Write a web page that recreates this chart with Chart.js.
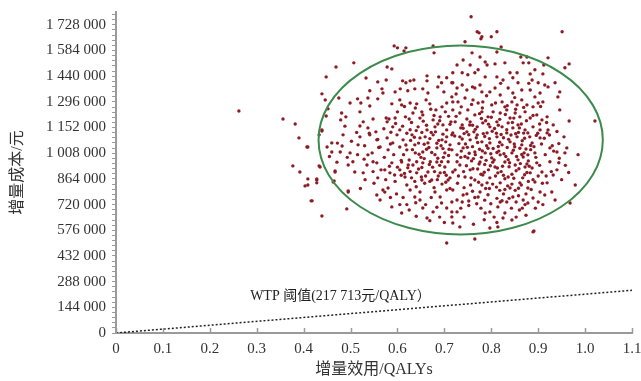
<!DOCTYPE html>
<html lang="zh">
<head>
  <meta charset="UTF-8" />
  <title>增量成本-效果散点图</title>
  <script src="https://cdn.jsdelivr.net/npm/chart.js"></script>
  <style>
    body { margin: 0; padding: 0; background: #fff; }
    .wrap { width: 641px; height: 381px; position: relative; }
  </style>
</head>
<body>
  <div class="wrap"><canvas id="icer"></canvas></div>
  <script>
    // PSA samples: [incremental QALYs, incremental cost in thousand yuan]
    const psaPoints = [
      [0.757,1773],[0.770,1689],[0.774,1683],[0.780,1661],[0.778,1650],[0.800,1661],[0.812,1689],[0.951,1689],[0.744,1633],
      [0.593,1610],[0.600,1599],[0.618,1599],[0.614,1582],[0.676,1610],[0.678,1571],
      [0.469,1492],[0.507,1515],[0.448,1436],[0.439,1341],[0.446,1307],[0.452,1257],[0.448,1217],[0.439,1139],[0.475,1318],
      [0.262,1245],[0.356,1200],[0.382,1172],[0.533,1430],
      [0.558,1408],[0.576,1419],[0.578,1492],[0.588,1481],[0.611,1414],[0.618,1403],[0.627,1414],[0.635,1419],[0.663,1442],
      [0.663,1414],[0.688,1436],[0.694,1403],[0.705,1431],[0.716,1403],
      [0.541,1358],[0.567,1369],[0.569,1346],[0.595,1352],[0.606,1369],[0.622,1358],[0.637,1369],[0.654,1369],[0.665,1346],
      [0.686,1380],[0.699,1352],
      [0.499,1290],[0.515,1313],[0.522,1290],[0.537,1318],[0.541,1273],[0.558,1313],[0.588,1285],[0.605,1307],[0.609,1279],
      [0.627,1290],[0.641,1285],[0.661,1307],[0.669,1285],[0.682,1251],[0.705,1290],[0.718,1296],
      [0.481,1234],[0.479,1195],[0.490,1212],[0.527,1184],[0.520,1161],[0.537,1150],[0.554,1128],[0.576,1206],[0.578,1184],
      [0.582,1200],[0.595,1206],[0.590,1156],[0.605,1139],[0.625,1200],[0.633,1234],[0.644,1156],[0.652,1240],[0.654,1223],
      [0.663,1139],[0.676,1195],[0.680,1156],[0.691,1212],[0.697,1167],[0.705,1139],[0.714,1184],
      [0.759,1571],[0.776,1548],[0.787,1520],[0.812,1576],[0.821,1604],[0.863,1548],[0.868,1515],[0.876,1548],[0.880,1515],
      [0.921,1543],[0.912,1503],[0.966,1509],[0.957,1487],[0.727,1503],[0.740,1531],[0.755,1503],[0.772,1476],[0.791,1503],
      [0.808,1509],[0.829,1515],[0.840,1459],[0.855,1459],[0.883,1453],[0.910,1453],[0.893,1476],
      [0.718,1459],[0.738,1459],[0.750,1448],[0.765,1459],[0.787,1436],[0.812,1436],[0.825,1419],[0.846,1431],[0.857,1403],
      [0.887,1419],[0.900,1403],[0.914,1391],[0.921,1380],[0.936,1403],[0.946,1352],[0.942,1324],[0.946,1251],[0.966,1189],
      [1.021,1189],
      [0.718,1403],[0.727,1374],[0.738,1391],[0.748,1363],[0.765,1374],[0.776,1391],[0.780,1352],[0.797,1352],[0.808,1374],
      [0.819,1335],[0.836,1374],[0.846,1346],[0.865,1363],[0.883,1363],[0.893,1324],[0.904,1346],[0.910,1296],
      [0.716,1324],[0.729,1296],[0.744,1318],[0.761,1307],[0.772,1290],[0.782,1296],[0.801,1279],[0.823,1296],[0.829,1268],
      [0.844,1296],[0.855,1279],[0.865,1307],[0.876,1279],[0.889,1268],[0.900,1290],
      [0.718,1251],[0.733,1234],[0.750,1251],[0.765,1223],[0.780,1240],[0.793,1212],[0.804,1240],[0.819,1234],[0.833,1251],
      [0.840,1206],[0.851,1234],[0.861,1212],[0.872,1240],[0.883,1206],[0.897,1223],[0.908,1195],[0.919,1212],[0.932,1167],
      [0.723,1184],[0.738,1167],[0.755,1184],[0.770,1156],[0.782,1178],[0.797,1156],[0.812,1184],[0.823,1156],[0.836,1178],
      [0.846,1150],[0.857,1167],[0.872,1139],[0.889,1156],[0.904,1139],[0.921,1139],
      [0.439,1133],[0.484,1111],[0.407,1043],[0.450,1043],[0.460,1066],[0.460,1015],[0.478,1015],[0.482,1049],[0.499,1010],
      [0.516,1055],[0.520,1100],[0.541,1111],[0.537,999],[0.556,1083],[0.563,1043],[0.578,1094],[0.580,1027],[0.590,1066],
      [0.599,1111],[0.605,1043],[0.612,1083],[0.620,1027],[0.631,1111],[0.637,1055],[0.648,1094],[0.654,1015],[0.665,1066],
      [0.676,1111],[0.684,1038],[0.695,1083],[0.701,1010],[0.712,1055],[0.716,1111],
      [0.435,931],[0.467,903],[0.463,847],[0.495,942],[0.509,903],[0.527,898],[0.535,942],[0.556,954],[0.558,870],[0.573,915],
      [0.584,898],[0.588,954],[0.605,915],[0.609,959],[0.616,875],[0.622,926],[0.633,942],[0.641,898],[0.652,858],[0.654,954],
      [0.665,903],[0.673,858],[0.684,959],[0.691,898],[0.701,931],[0.708,858],[0.718,903],
      [0.409,830],[0.428,858],[0.418,741],[0.439,656],[0.492,696],[0.495,791],[0.556,774],[0.563,746],[0.569,802],[0.580,813],
      [0.588,707],[0.609,673],[0.627,802],[0.637,763],[0.648,791],[0.648,746],[0.654,701],[0.663,645],[0.676,679],[0.680,791],
      [0.691,763],[0.694,729],[0.705,802],[0.705,701],[0.716,735],[0.716,651],[0.705,505],
      [0.718,1122],[0.733,1100],[0.748,1128],[0.755,1083],[0.770,1111],[0.780,1072],[0.791,1122],[0.797,1066],[0.812,1100],
      [0.823,1055],[0.833,1122],[0.840,1072],[0.855,1100],[0.865,1055],[0.878,1122],[0.887,1066],[0.904,1094],[0.919,1122],
      [0.925,1038],[0.940,1015],[0.961,1038],[0.957,1010],[0.893,1010],[0.878,999],[0.868,987],
      [0.716,1027],[0.727,999],[0.740,1038],[0.750,982],[0.765,1015],[0.776,959],[0.787,1010],[0.801,982],[0.808,931],
      [0.814,898],[0.819,999],[0.829,959],[0.844,1010],[0.851,942],[0.857,971],[0.872,931],[0.883,898],[0.897,954],
      [0.908,903],[0.919,842],[0.932,886],[0.940,915],[0.979,830],
      [0.723,915],[0.733,942],[0.744,875],[0.755,915],[0.765,858],[0.782,886],[0.791,842],[0.797,870],[0.819,842],[0.836,875],
      [0.840,813],[0.861,842],[0.878,813],[0.893,847],[0.904,791],[0.914,774],[0.929,791],[0.936,746],[0.968,729],
      [0.718,802],[0.727,746],[0.740,774],[0.738,735],[0.772,763],[0.776,791],[0.787,673],[0.797,679],[0.814,707],[0.819,735],
      [0.829,673],[0.833,735],[0.844,634],[0.846,763],[0.868,746],[0.878,729],[0.889,757],[0.900,735],
      [0.716,679],[0.727,679],[0.718,617],[0.733,595],[0.797,589],[0.814,595],[0.825,645],[0.889,567],[0.765,527],[0.891,572],
      [0.377,937],[0.392,903],[0.409,864],[0.403,825],[0.428,842],[0.428,864],[0.416,741],[0.390,1094],[0.409,1043],
      [0.433,1111],[0.433,937],[0.465,853],[0.467,909],[0.495,797],
      [0.722,1105],[0.738,1088],[0.745,1060],[0.752,1112],[0.760,1045],[0.768,1095],[0.775,1030],[0.783,1118],[0.790,1050],
      [0.796,1090],[0.804,1035],[0.811,1120],[0.818,1070],[0.826,1095],[0.834,1040],[0.842,1110],[0.849,1060],[0.858,1125],
      [0.866,1078],[0.874,1032],[0.882,1100],[0.891,1045],[0.899,1120],[0.907,1060],[0.915,1000],
      [0.727,960],[0.736,1020],[0.744,990],[0.758,965],[0.766,1000],[0.779,985],[0.786,945],[0.799,1005],[0.806,970],
      [0.816,1020],[0.824,935],[0.831,990],[0.839,955],[0.847,1025],[0.854,990],[0.862,950],[0.870,1010],[0.879,965],
      [0.887,925],[0.895,985],[0.903,940],
      [0.730,880],[0.741,905],[0.757,870],[0.771,920],[0.778,890],[0.794,915],[0.809,880],[0.821,905],[0.829,865],[0.844,890],
      [0.853,910],[0.867,870],[0.876,900],[0.889,860],[0.900,880],
      [0.756,830],[0.773,845],[0.788,810],[0.803,835],[0.818,800],[0.835,825],[0.851,800],[0.864,830],[0.885,805],
      [0.748,780],[0.765,760],[0.793,775],[0.812,755],[0.826,780],[0.858,770],[0.872,720],[0.843,700],[0.806,650],[0.778,700],
      [0.752,715],[0.742,650],[0.860,690],[0.894,700],[0.910,720],
      [0.620,1120],[0.628,1080],[0.640,1135],[0.645,1065],[0.659,1100],[0.667,1040],[0.672,1125],[0.688,1080],[0.693,1050],
      [0.705,1100],[0.710,1030],[0.613,1000],[0.625,970],[0.638,1010],[0.650,985],[0.662,1030],[0.670,960],[0.680,1000],
      [0.690,940],[0.698,985],[0.708,960],[0.600,930],[0.615,895],[0.630,870],[0.645,920],[0.660,880],[0.675,930],[0.685,860],
      [0.700,900],[0.712,870],[0.595,850],[0.620,830],[0.640,820],[0.658,840],[0.678,815],[0.695,835],[0.712,810],
      [0.630,1180],[0.648,1205],[0.662,1165],[0.678,1220],[0.690,1190],[0.702,1240],[0.712,1170],[0.725,1215],[0.735,1150],
      [0.748,1200],[0.760,1165],[0.775,1230],[0.788,1190],[0.800,1210],[0.815,1165],[0.830,1225],[0.845,1180],[0.860,1150],
      [0.875,1190],[0.560,1040],[0.572,985],[0.585,1060],[0.592,1000],[0.548,960],[0.565,915],[0.530,1050],[0.540,1120],
      [0.515,1000],[0.505,960],[0.575,860],[0.550,840],[0.598,780],[0.612,760],[0.605,720],[0.625,690],[0.660,720],[0.672,760],
      [0.690,650],[0.700,620],[0.735,700],[0.520,1240],[0.548,1200],[0.600,1240],[0.615,1270],[0.725,1340],[0.760,1380],
      [0.790,1330],[0.820,1400],[0.850,1320],[0.880,1400],[0.905,1270],[0.918,1180],[0.930,1050],[0.945,980],[0.955,1100],
      [0.965,900],[0.950,860],[0.925,960],[0.940,1130],[0.985,1000],
      [0.731,1062],[0.742,1118],[0.749,1041],[0.763,1128],[0.771,1068],[0.786,1102],[0.793,1036],[0.802,1131],[0.815,1046],
      [0.821,1113],[0.837,1086],[0.852,1117],[0.861,1036],[0.871,1092],[0.884,1051],[0.896,1108],[0.735,985],[0.753,1008],
      [0.762,978],[0.781,1021],[0.789,968],[0.803,958],[0.812,1012],[0.827,1005],[0.836,972],[0.850,1044],[0.865,1001],
      [0.876,948],[0.884,1028],[0.747,938],[0.761,921],[0.774,948],[0.785,901],[0.798,938],[0.813,925],[0.826,885],[0.838,932],
      [0.848,868],[0.859,921],[0.871,887],[0.881,935],[0.740,1148],[0.754,1166],[0.766,1142],[0.779,1203],[0.794,1171],
      [0.807,1147],[0.818,1198],[0.833,1140],[0.848,1205],[0.864,1172],[0.869,1121],[0.627,1140],[0.636,1098],[0.652,1125],
      [0.657,1058],[0.669,1090],[0.681,1128],[0.684,1064],[0.697,1115],[0.703,1072],[0.618,1054],[0.632,1028],[0.646,1002],
      [0.657,978],[0.673,1012],[0.686,980],[0.697,1034],[0.709,995],[0.608,968],[0.623,942],[0.641,960],[0.652,928],[0.668,945],
      [0.679,905],[0.694,960],[0.704,885],[0.608,885],[0.627,905],[0.637,850],[0.651,875],[0.669,850],[0.687,880],[0.703,845],
      [0.586,1126],[0.596,1175],[0.611,1160],[0.617,1212],[0.638,1262],[0.655,1188],[0.671,1255],[0.686,1172],[0.695,1268],
      [0.709,1215],[0.571,1145],[0.558,1085],[0.546,1010],[0.529,975],[0.513,1125],[0.502,1075],[0.493,985],[0.488,1160],
      [0.472,1065],[0.471,958],[0.455,990],[0.548,905],[0.583,935],[0.594,886],[0.573,790],[0.585,760],[0.531,860],[0.521,810],
      [0.736,1268],[0.758,1282],[0.781,1262],[0.809,1290],[0.834,1275],[0.852,1255],[0.869,1265],[0.889,1220],[0.903,1172],
      [0.913,1092],[0.924,1110],[0.933,1020],[0.944,1062],[0.928,905],[0.917,880],[0.909,840],[0.944,955],[0.958,940],
      [0.728,840],[0.742,815],[0.760,795],[0.780,830],[0.796,810],[0.811,818],[0.829,805],[0.844,835],[0.858,812],[0.874,780],
      [0.879,850],[0.752,740],[0.769,725],[0.786,745],[0.799,725],[0.823,742],[0.838,755],[0.853,735],[0.866,700],[0.785,635],
      [0.762,610],[0.812,620],[0.853,650],[0.874,660],[0.669,630],[0.640,655],[0.620,720],[0.639,730],[0.684,705]
    ];

    // WTP threshold line (217 713 yuan per QALY)
    const wtpQaly = [0, 1.1];
    const wtpCost = [0, 239484];
    const wtpLabel = 'WTP 阈值(217 713元/QALY）';
    const wtpLabelAt = [0.286, 204000];

    // 95% confidence ellipse: centre and semi-axes, in data units
    const ellipseCentre = [0.7348, 1082700];
    const ellipseRadius = [0.303, 530000];

    // axis ticks
    const xTickValues = [0, 0.1, 0.2, 0.3, 0.4, 0.5, 0.6, 0.7, 0.8, 0.9, 1.0, 1.1];
    const xTickLabels = ['0', '0.1', '0.2', '0.3', '0.4', '0.5', '0.6', '0.7', '0.8', '0.9', '1.0', '1.1'];
    const yMajorTicks = [0, 144000, 288000, 432000, 576000, 720000, 864000, 1008000, 1152000, 1296000, 1440000, 1584000, 1728000];
    const yMinorPerMajor = 5;
    const xMax = 1.1;
    const yMax = 1800000;

    const serif = "'Liberation Serif', 'Noto Sans CJK SC', serif";

    function fmtYuan(v) {
      return String(v).replace(/\B(?=(\d{3})+(?!\d))/g, ' ');
    }

    // minor ticks between the labelled cost ticks
    const yStep = yMajorTicks[1] - yMajorTicks[0];
    const yAllTicks = [];
    for (let v = 0; v <= yMax; v += yStep / yMinorPerMajor) yAllTicks.push(Math.round(v));

    const extras = {
      id: 'extras',
      afterDatasetsDraw(chart) {
        const { ctx, scales: { x, y } } = chart;
        const cx = x.getPixelForValue(ellipseCentre[0]);
        const cy = y.getPixelForValue(ellipseCentre[1]);
        const rx = x.getPixelForValue(ellipseCentre[0] + ellipseRadius[0]) - cx;
        const ry = cy - y.getPixelForValue(ellipseCentre[1] + ellipseRadius[1]);
        ctx.save();
        ctx.strokeStyle = '#3d8b4c';
        ctx.lineWidth = 2;
        ctx.beginPath();
        ctx.ellipse(cx, cy, rx, ry, 0, 0, Math.PI * 2);
        ctx.stroke();

        // small upward tick marks on the x axis
        ctx.strokeStyle = '#9a9a9a';
        ctx.lineWidth = 1.5;
        const base = y.getPixelForValue(0);
        xTickValues.forEach(v => {
          const px = Math.round(x.getPixelForValue(v)) + 0.5;
          ctx.beginPath();
          ctx.moveTo(px, base);
          ctx.lineTo(px, base - 5);
          ctx.stroke();
        });

        ctx.fillStyle = '#222';
        ctx.font = "14px " + serif;
        ctx.textBaseline = 'middle';
        ctx.fillText(wtpLabel, x.getPixelForValue(wtpLabelAt[0]), y.getPixelForValue(wtpLabelAt[1]));
        ctx.restore();
      }
    };

    new Chart(document.getElementById('icer'), {
      type: 'scatter',
      data: {
        datasets: [{
          label: 'PSA',
          data: psaPoints.map(p => ({ x: p[0], y: p[1] * 1000 })),
          pointRadius: 1.7,
          pointBackgroundColor: '#8c1b24',
          pointBorderWidth: 0
        }, {
          type: 'line',
          label: 'WTP',
          data: wtpQaly.map((q, i) => ({ x: q, y: wtpCost[i] })),
          borderColor: '#222',
          borderWidth: 1.5,
          borderDash: [2, 2],
          pointRadius: 0,
          fill: false
        }]
      },
      plugins: [extras],
      options: {
        responsive: true,
        maintainAspectRatio: false,
        animation: false,
        layout: { padding: { top: 12, right: 0, left: 0, bottom: 0 } },
        plugins: { legend: { display: false }, tooltip: { enabled: false } },
        scales: {
          x: {
            type: 'linear',
            min: 0,
            max: xMax,
            afterBuildTicks: s => { s.ticks = xTickValues.map(v => ({ value: v })); },
            afterFit: s => { s.height = 48; s.paddingRight = 9; s.paddingLeft = 0; },
            border: { display: true, color: '#9a9a9a', width: 2 },
            grid: { drawOnChartArea: false, drawTicks: false },
            ticks: {
              padding: 7,
              color: '#333',
              font: { family: serif, size: 15 },
              maxRotation: 0,
              autoSkip: false,
              callback: (v, i) => xTickLabels[i]
            },
            title: {
              display: true,
              text: '增量效用/QALYs',
              color: '#333',
              font: { family: serif, size: 16 },
              padding: { top: 0, bottom: 2 }
            }
          },
          y: {
            type: 'linear',
            min: 0,
            max: yMax,
            afterBuildTicks: s => { s.ticks = yAllTicks.map(v => ({ value: v })); },
            afterFit: s => { s.width = 116; s.paddingTop = 0; s.paddingBottom = 0; },
            border: { display: true, color: '#9a9a9a', width: 2 },
            grid: { drawOnChartArea: false, drawTicks: true, tickLength: 4, color: '#9a9a9a' },
            ticks: {
              autoSkip: false,
              padding: 6,
              color: '#333',
              font: { family: serif, size: 15 },
              callback: v => (yMajorTicks.includes(v) ? fmtYuan(v) : '')
            },
            title: {
              display: true,
              text: '增量成本/元',
              color: '#333',
              font: { family: serif, size: 16 },
              padding: { top: 8, bottom: 0 }
            }
          }
        }
      }
    });
  </script>
</body>
</html>
